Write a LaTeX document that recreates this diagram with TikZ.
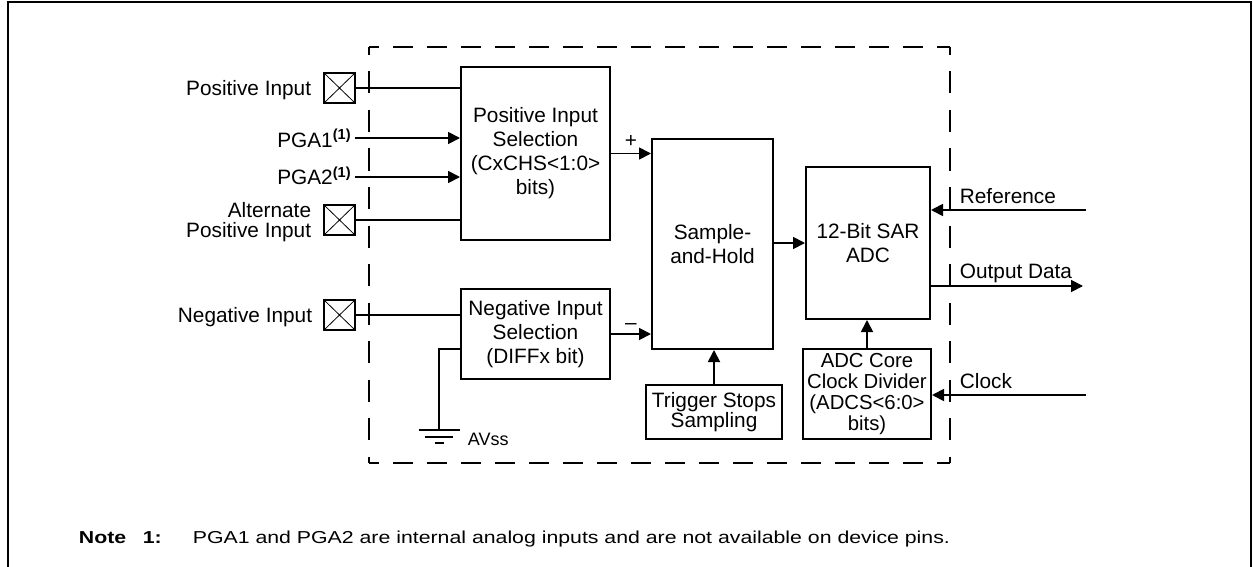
\documentclass[tikz,border=0pt]{standalone}
\usepackage{fontspec}
\setmainfont{Liberation Sans}
\newfontfamily\notefont[FakeStretch=1.23]{Liberation Sans}
\usetikzlibrary{arrows.meta,calc}
\begin{document}
\begin{tikzpicture}[x=1pt,y=-1pt,
  font=\fontsize{20.8pt}{24pt}\selectfont,
  line width=1.8pt,
  blk/.style={draw, line width=2pt, align=center, inner sep=0pt},
  pin/.style={draw, line width=1.8pt, minimum width=31pt, minimum height=30pt, inner sep=0pt,
    path picture={\draw[line width=0.8pt] (path picture bounding box.south west) -- (path picture bounding box.north east)
      (path picture bounding box.north west) -- (path picture bounding box.south east);}},
  arr/.style={-{Triangle[length=12pt,width=12pt]}},
  lbl/.style={inner sep=0pt},
  hdash/.style={line width=2pt, dash pattern=on 20pt off 14pt, dash phase=10pt},
  vdash/.style={line width=2pt, dash pattern=on 22pt off 16.5pt, dash phase=14pt},
]
\useasboundingbox (0,0) rectangle (1253,567);
% outer frame
\draw[line width=2.3pt] (8,567) -- (8,2.2) -- (1250.7,2.2) -- (1250.7,567);
% dashed device boundary
\draw[hdash] (369,47) -- (949.5,47);
\draw[hdash] (369,463) -- (949.5,463);
\draw[vdash] (369,47) -- (369,463);
\draw[vdash] (949.5,47) -- (949.5,463);

% blocks
\node[blk, minimum width=149pt, minimum height=173pt] (pis) at (535.5,153.5) {Positive Input\\Selection\\(CxCHS<1:0>\\bits)};
\node[blk, minimum width=149pt, minimum height=90pt] (nis) at (535.5,334) {Negative Input\\Selection\\(DIFFx bit)};
\node[blk, minimum width=121pt, minimum height=210pt] (sh) at (712.5,244) {Sample-\\and-Hold};
\node[blk, minimum width=136pt, minimum height=54pt, font=\fontsize{20.8pt}{20.5pt}\selectfont] (trig) at (714,412) {Trigger Stops\\Sampling};
\node[blk, minimum width=124pt, minimum height=152pt] (adc) at (868,243) {12-Bit SAR\\ADC};
\node[blk, minimum width=128pt, minimum height=90pt, font=\fontsize{20.3pt}{21pt}\selectfont] (core) at (867,394) {ADC Core\\Clock Divider\\(ADCS<6:0>\\bits)};

% pins
\node[pin] (ppos) at (339.5,88) {};
\node[pin] (palt) at (339.5,220) {};
\node[pin] (pneg) at (339.5,315) {};

% labels
\node[lbl, anchor=base east] (lpos) at (312,96) {Positive Input};
\node[lbl, anchor=base east] (lpga1) at (352,147) {PGA1\textsuperscript{\textbf{(1)}}};
\node[lbl, anchor=base east] (lpga2) at (352,185) {PGA2\textsuperscript{\textbf{(1)}}};
\node[lbl, anchor=east, align=right, font=\fontsize{20.8pt}{20pt}\selectfont] (lalt) at (312,222) {Alternate\\Positive Input};
\node[lbl, anchor=base east] (lneg) at (313,322) {Negative Input};
\node[lbl] (plus) at (631,141) {+};
\node[lbl] (minus) at (631,327) {–};
\node[lbl, anchor=base west, font=\fontsize{18pt}{18pt}\selectfont] (avss) at (467,445) {AVss};
\node[lbl, anchor=base west] (lref) at (959,203) {Reference};
\node[lbl, anchor=base west] (lout) at (959,278) {Output Data};
\node[lbl, anchor=base west] (lclk) at (959,388) {Clock};
\node[lbl, anchor=base west, font=\notefont\fontsize{17.3pt}{20pt}\selectfont] (note) at (78,543)
  {\makebox[64pt][l]{\textbf{Note}}\makebox[50pt][l]{\textbf{1:}}PGA1 and PGA2 are internal analog inputs and are not available on device pins.};

% connectors
\coordinate (pga1) at (355,138);
\coordinate (pga2) at (355,177);
\coordinate (refin) at (1086,210);
\coordinate (outend) at (1083,286);
\coordinate (clkin) at (1086,395);
\coordinate (gnd) at (439,430);

\draw (ppos.east) -- (ppos.east -| pis.west);
\draw[arr] (pga1) -- (pga1 -| pis.west);
\draw[arr] (pga2) -- (pga2 -| pis.west);
\draw (palt.east) -- (palt.east -| pis.west);
\draw (pneg.east) -- (pneg.east -| nis.west);
\draw[arr] (pis.east) -- (pis.east -| sh.west);
\draw[arr] (nis.east) -- (nis.east -| sh.west);
\draw[arr] (sh.east |- adc.west) -- (adc.west);
\draw[arr] (trig.north) -- (trig.north |- sh.south);
\draw[arr] (core.north) -- (core.north |- adc.south);
\draw[arr] (refin) -- (refin -| adc.east);
\draw[arr] (outend -| adc.east) -- (outend);
\draw[arr] (clkin) -- (clkin -| core.east);

% ground
\draw ($(nis.south west)!0.333!(nis.north west)$) -| (gnd);
\draw[line width=1.5pt] ([xshift=-20.5pt]gnd) -- ([xshift=20.5pt]gnd);
\draw[line width=1.5pt] ([xshift=-14pt,yshift=-7pt]gnd) -- ([xshift=14pt,yshift=-7pt]gnd);
\draw[line width=1.5pt] ([xshift=-4.5pt,yshift=-13pt]gnd) -- ([xshift=4.5pt,yshift=-13pt]gnd);
\end{tikzpicture}
\end{document}
